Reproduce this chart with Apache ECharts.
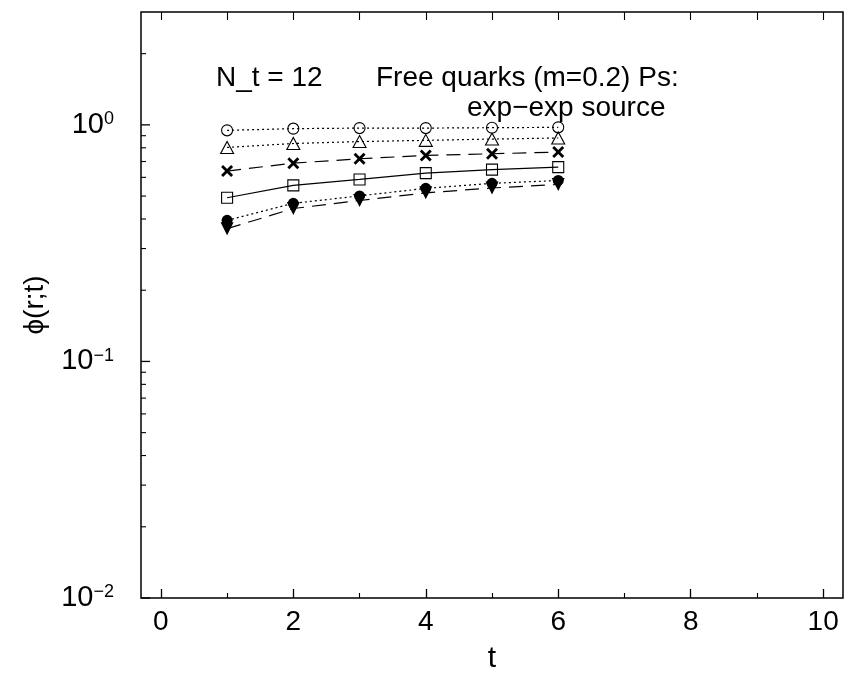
<!DOCTYPE html>
<html><head><meta charset="utf-8">
<script src="https://cdn.jsdelivr.net/npm/echarts@6/dist/echarts.min.js"></script>
<style>html,body{margin:0;padding:0;background:#fff}#c{width:845px;height:680px}</style>
</head><body><div id="c"></div>
<script>
// ---- data ----
const tValues = [1, 2, 3, 4, 5, 6];
const openCircle     = [0.948, 0.964, 0.969, 0.969, 0.973, 0.976];
const openTriangle   = [0.803, 0.834, 0.850, 0.860, 0.871, 0.880];
const crossMark      = [0.638, 0.689, 0.719, 0.743, 0.755, 0.767];
const openSquare     = [0.492, 0.555, 0.588, 0.625, 0.647, 0.663];
const filledCircle   = [0.395, 0.466, 0.501, 0.539, 0.566, 0.582];
const filledTriangle = [0.364, 0.443, 0.479, 0.516, 0.541, 0.560];

const xMin = -0.3, xMax = 10.3;
const yMin = 0.01, yMax = 3;
const xMajorTicks = [0, 2, 4, 6, 8, 10];
const xMinorTicks = [1, 3, 5, 7, 9];
const xTopTicks = [0, 1, 2, 3, 4, 5, 6, 7, 8, 9, 10];
const yMajorTicks = [0.01, 0.1, 1];
const yMinorTicks = [0.02, 0.03, 0.04, 0.05, 0.06, 0.07, 0.08, 0.09,
                     0.2, 0.3, 0.4, 0.5, 0.6, 0.7, 0.8, 0.9, 2];

const FONT = 'Liberation Sans, Arial, sans-serif';

const chart = echarts.init(document.getElementById('c'), null, {renderer: 'canvas'});

function pairs(ys) { return tValues.map((t, i) => [t, ys[i]]); }

function lineSeries(name, ys, symbol, size, filled, lineType) {
  return {
    name, type: 'line', data: pairs(ys), xAxisIndex: 0, yAxisIndex: 0,
    symbol, symbolSize: size, showSymbol: true,
    itemStyle: {color: filled ? '#000' : 'rgba(0,0,0,0)', borderColor: '#000', borderWidth: filled ? 0 : 1.1},
    lineStyle: {color: '#000', width: 1.2, type: lineType},
    z: 3
  };
}

const dotted = [2, 3];
const dashed = [14, 8];

const yTickData = yMajorTicks.map(v => [xMin, v, 9]).concat(yMinorTicks.map(v => [xMin, v, 5]));

const option = {
  animation: false,
  backgroundColor: '#fff',
  grid: {left: 141, right: 2, top: 12, bottom: 82, show: true, borderColor: '#000', borderWidth: 1.5, backgroundColor: 'transparent'},
  xAxis: [
    {type: 'value', min: xMin, max: xMax, position: 'bottom',
     axisLine: {show: false}, splitLine: {show: false},
     axisTick: {show: true, inside: true, length: 9, customValues: xMajorTicks, lineStyle: {color: '#000', width: 1.3}},
     axisLabel: {show: true, customValues: xMajorTicks, margin: 10, fontSize: 28, fontFamily: FONT, color: '#000'},
     name: 't', nameLocation: 'middle', nameGap: 46,
     nameTextStyle: {fontSize: 30, fontFamily: FONT, color: '#000'}},
    {type: 'value', min: xMin, max: xMax, position: 'bottom',
     axisLine: {show: false}, splitLine: {show: false},
     axisTick: {show: true, inside: true, length: 5, customValues: xMinorTicks, lineStyle: {color: '#000', width: 1.1}},
     axisLabel: {show: false}},
    {type: 'value', min: xMin, max: xMax, position: 'top',
     axisLine: {show: false}, splitLine: {show: false},
     axisTick: {show: true, inside: true, length: 8, customValues: xTopTicks, lineStyle: {color: '#000', width: 1.1}},
     axisLabel: {show: false}}
  ],
  yAxis: [
    {type: 'log', min: yMin, max: yMax, logBase: 10, position: 'left',
     axisLine: {show: false}, splitLine: {show: false}, axisTick: {show: false}, minorTick: {show: false},
     axisLabel: {
       show: true, margin: 27, fontFamily: FONT, color: '#000',
       formatter: function (v) {
         const e = Math.log10(v), r = Math.round(e);
         if (Math.abs(e - r) > 1e-6) return '';
         return '{b|10}{s|' + (r < 0 ? '\u2212' + (-r) : String(r)) + '}';
       },
       rich: {
         b: {fontSize: 29, lineHeight: 29, fontFamily: FONT, color: '#000', padding: [8, 0, 8, 0]},
         s: {fontSize: 18, lineHeight: 18, fontFamily: FONT, color: '#000', verticalAlign: 'top'}
       }
     },
     name: '\u03d5(r;t)', nameLocation: 'middle', nameGap: 92,
     nameTextStyle: {fontSize: 28, fontFamily: FONT, color: '#000'}}
  ],
  graphic: [
    {type: 'text', left: 216, top: 64, style: {text: 'N_t = 12', font: '28px ' + FONT, fill: '#000', verticalAlign: 'middle'}},
    {type: 'text', left: 376, top: 64, style: {text: 'Free quarks (m=0.2) Ps:', font: '28px ' + FONT, fill: '#000', verticalAlign: 'middle'}},
    {type: 'text', left: 467, top: 94, style: {text: 'exp\u2212exp source', font: '28px ' + FONT, fill: '#000', verticalAlign: 'middle'}}
  ],
  series: [
    {
      type: 'custom', xAxisIndex: 0, yAxisIndex: 0, data: yTickData, encode: {x: 0, y: 1},
      clip: false, silent: true, z: 5,
      renderItem: function (params, api) {
        const p = api.coord([api.value(0), api.value(1)]);
        const len = api.value(2);
        return {type: 'line', shape: {x1: p[0], y1: p[1], x2: p[0] + len, y2: p[1]},
                style: {stroke: '#000', lineWidth: len > 6 ? 1.3 : 1.1}};
      }
    },
    lineSeries('circle', openCircle, 'circle', 11, false, dotted),
    lineSeries('triangle', openTriangle, 'triangle', [13, 12], false, dotted),
    lineSeries('cross', crossMark, 'path://M0,2 L2,0 L6,4 L10,0 L12,2 L8,6 L12,10 L10,12 L6,8 L2,12 L0,10 L4,6 Z', 12, true, dashed),
    lineSeries('square', openSquare, 'rect', 11, false, 'solid'),
    lineSeries('filledCircle', filledCircle, 'circle', 11, true, dotted),
    lineSeries('filledTriangle', filledTriangle, 'path://M0,0 L10,0 L5,10 Z', [13, 13], true, dashed)
  ]
};
chart.setOption(option);
</script>
</body></html>
